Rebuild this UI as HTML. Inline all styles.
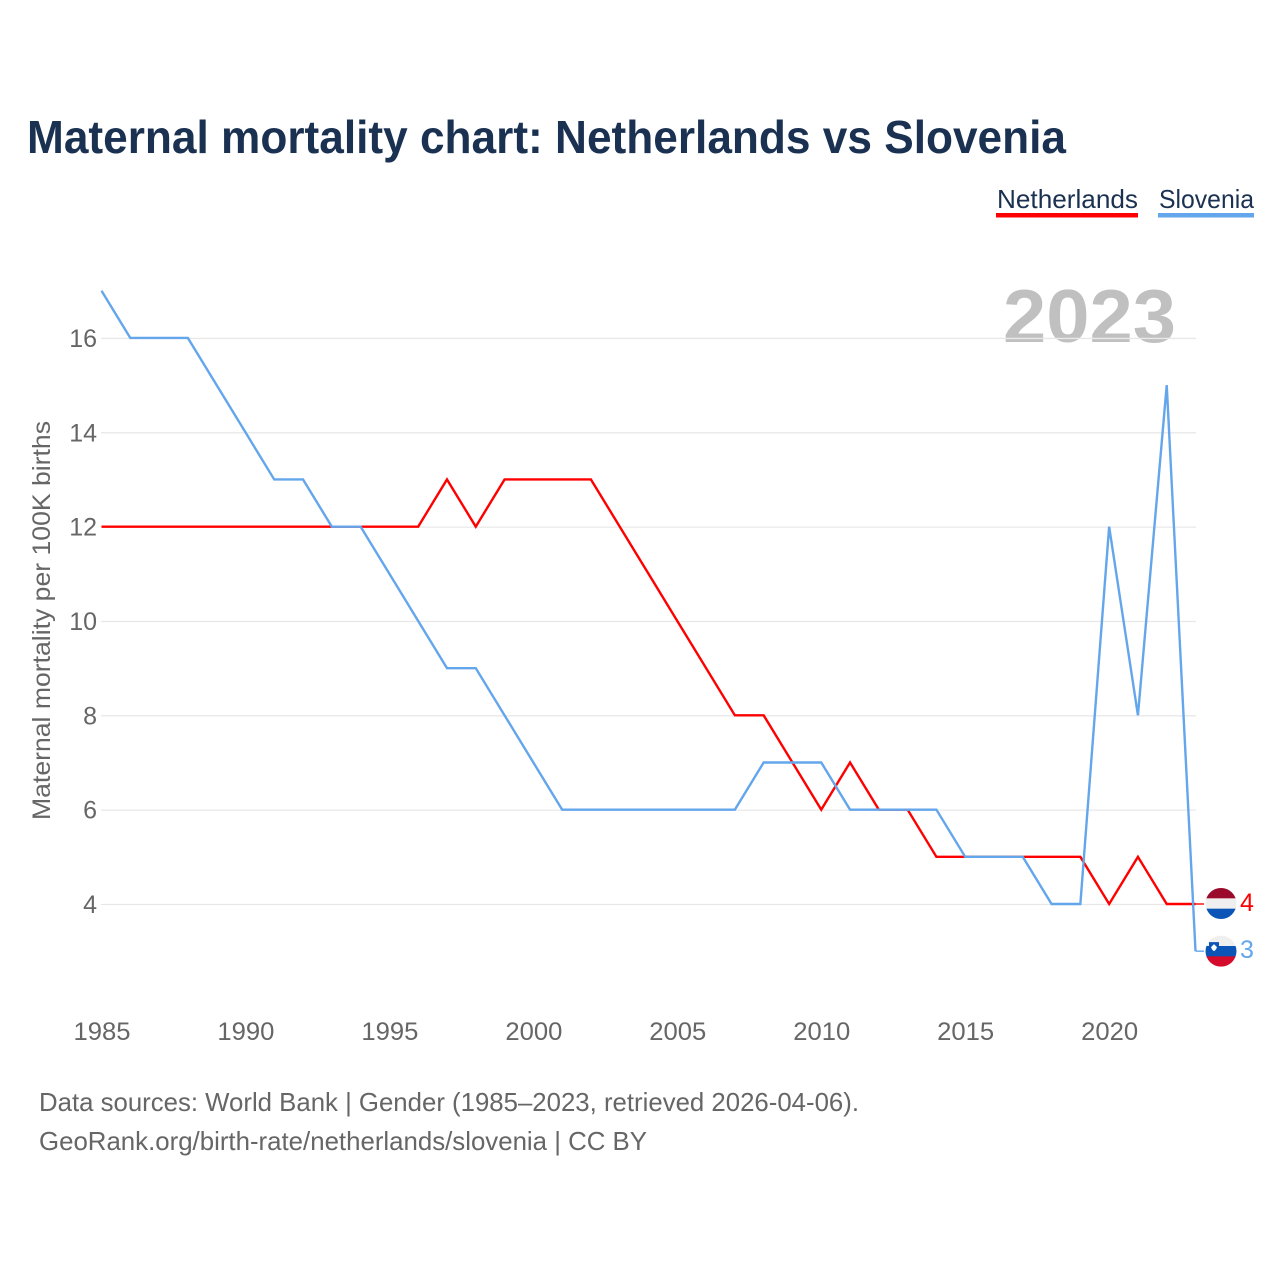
<!DOCTYPE html>
<html>
<head>
<meta charset="utf-8">
<style>
html,body{margin:0;padding:0;background:#fff;}
svg{display:block;font-family:"Liberation Sans",sans-serif;}
</style>
</head>
<body>
<svg id="chart" width="1280" height="1280" viewBox="0 0 1280 1280" xmlns="http://www.w3.org/2000/svg">
<text x="27" y="153" font-size="46" font-weight="700" fill="#1a3152" textLength="1039" lengthAdjust="spacingAndGlyphs">Maternal mortality chart: Netherlands vs Slovenia</text>
<g>
<g>
<text x="997" y="208" font-size="26" fill="#1a3152" textLength="141" lengthAdjust="spacingAndGlyphs">Netherlands</text>
<rect x="996" y="213" width="142" height="4.5" fill="#ff0000"></rect>
</g>
<g>
<text x="1159" y="208" font-size="26" fill="#1a3152" textLength="95" lengthAdjust="spacingAndGlyphs">Slovenia</text>
<rect x="1158" y="213" width="96" height="4.5" fill="#64a6eb"></rect>
</g>
</g>
<text x="1003" y="342" font-size="75" font-weight="700" fill="#c0c0c0" textLength="173" lengthAdjust="spacingAndGlyphs">2023</text>
<g id="grid"></g>
<g id="yticks"></g>
<g id="xticks"></g>
<text transform="translate(50,820) rotate(-90)" font-size="25" fill="#666666" textLength="399" lengthAdjust="spacingAndGlyphs">Maternal mortality per 100K births</text>
<g id="series"></g>
<g id="flagNL"></g>
<g id="flagSI"></g>
<text x="39" y="1111" font-size="26" fill="#666666" textLength="820" lengthAdjust="spacingAndGlyphs">Data sources: World Bank | Gender (1985–2023, retrieved 2026-04-06).</text>
<text x="39" y="1150" font-size="26" fill="#666666" textLength="608" lengthAdjust="spacingAndGlyphs">GeoRank.org/birth-rate/netherlands/slovenia | CC BY</text>
</svg>
<script>
const years = [1985,1986,1987,1988,1989,1990,1991,1992,1993,1994,1995,1996,1997,1998,1999,2000,2001,2002,2003,2004,2005,2006,2007,2008,2009,2010,2011,2012,2013,2014,2015,2016,2017,2018,2019,2020,2021,2022,2023];
const netherlands = [12,12,12,12,12,12,12,12,12,12,12,12,13,12,13,13,13,13,12,11,10,9,8,8,7,6,7,6,6,5,5,5,5,5,5,4,5,4,4];
const slovenia = [17,16,16,16,15,14,13,13,12,12,11,10,9,9,8,7,6,6,6,6,6,6,6,7,7,7,6,6,6,6,5,5,5,4,4,12,8,15,3];
const yTickValues = [4,6,8,10,12,14,16];
const xTickValues = [1985,1990,1995,2000,2005,2010,2015,2020];

const NS = 'http://www.w3.org/2000/svg';
const x = function (yr) { return 101.5 + (yr - 1985) * 28.79; };
const y = function (v) { return 904 - (v - 4) * 47.17; };
function make(tag, attrs, parent) {
  const el = document.createElementNS(NS, tag);
  for (const k in attrs) el.setAttribute(k, attrs[k]);
  parent.appendChild(el);
  return el;
}
const grid = document.getElementById('grid');
const yt = document.getElementById('yticks');
const xt = document.getElementById('xticks');
const series = document.getElementById('series');

yTickValues.forEach(function (v) {
  const line = make('line', {x1: 101, x2: 1196, y1: y(v) + 0.5, y2: y(v) + 0.5, stroke: '#e8e8e8', 'stroke-width': 1.3}, grid);
  
  
  const t = make('text', {x: 97, y: y(v) + 9, 'text-anchor': 'end', 'font-size': 25, fill: '#666666'}, yt);
  
  
  t.textContent = v;
});
xTickValues.forEach(function (v) {
  const t = make('text', {x: x(v) + 0.5, y: 1040, 'text-anchor': 'middle', 'font-size': 25, fill: '#666666', textLength: 57, lengthAdjust: 'spacingAndGlyphs'}, xt);
  
  
  t.textContent = v;
});
function drawSeries(values, color, name) {
  const pts = values.map(function (v, i) { return x(years[i]) + ',' + y(v); }).join(' ');
  const p = make('polyline', {points: pts, fill: 'none', stroke: color, 'stroke-width': 2.4, 'stroke-linejoin': 'miter'}, series);
  
  
  const last = values[values.length - 1];
  const lastYear = years[years.length - 1];
  const c = make('line', {x1: x(lastYear), x2: 1204, y1: y(last), y2: y(last), stroke: color, 'stroke-width': 1.4}, series);
  
  
  const t = make('text', {x: 1240, y: y(last) + 7, 'font-size': 25, fill: color}, series);
  
  
  t.textContent = last;
}
drawSeries(netherlands, '#ff0000', 'netherlands');
drawSeries(slovenia, '#64a6eb', 'slovenia');

const nlLast = netherlands[netherlands.length - 1];
const siLast = slovenia[slovenia.length - 1];
function bands(parent, cy, cols, id) {
  const r = 15.5;
  const defs = make('defs', {}, parent);
  const cp = make('clipPath', {id: id}, defs);
  make('circle', {cx: 1221, cy: cy, r: r}, cp);
  const g = make('g', {'clip-path': 'url(#' + id + ')'}, parent);
  cols.forEach(function (col, i) {
    make('rect', {x: 1205, y: cy - r + i * 10.33, width: 32, height: 10.5, fill: col}, g);
  });
  return g;
}
bands(document.getElementById('flagNL'), y(nlLast) - 0.5, ['#9a0a2a', '#efefef', '#0a55b5'], 'clipNL');
const siG = bands(document.getElementById('flagSI'), y(siLast), ['#efefef', '#0a55b5', '#d40b2a'], 'clipSI');
make('path', {d: 'M1209 ' + (y(siLast) - 9) + ' h10 v7 q0 4 -5 5 q-5 -1 -5 -5 z', fill: '#0a55b5'}, siG);
make('path', {d: 'M1211 ' + (y(siLast) - 4) + ' l3 -3 l3 3 q-1 3 -3 4 q-2 -1 -3 -4 z', fill: '#ffffff'}, siG);
</script>
</body>
</html>
